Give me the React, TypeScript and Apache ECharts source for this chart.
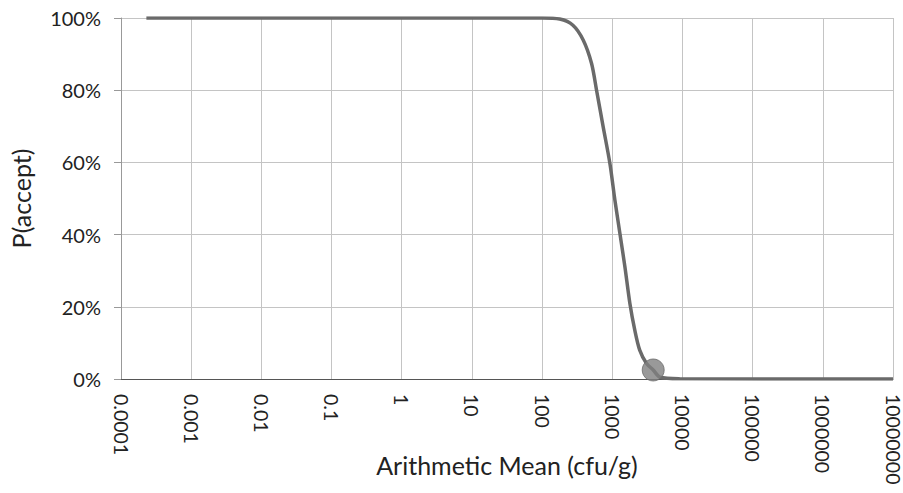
import React, { useEffect, useRef } from "react";
import * as echarts from "echarts";

const xMean: number[] = [0.00023, 100, 178, 275, 385, 507, 597, 741, 925, 1089, 1283, 1513, 1780, 2090, 2460, 3080, 3830, 4800, 9100, 10000000];
const pAccept: number[] = [100, 100, 99.7, 98, 93.9, 87.4, 80, 69.9, 59.7, 49.6, 40.4, 31.1, 21, 13.6, 8, 4.3, 2.5, 0.5, 0.1, 0];
const markerPoint: [number, number][] = [[3830, 2.5]];
const yTicks: number[] = [0, 20, 40, 60, 80, 100];

const FONT = "Lato, 'Open Sans', sans-serif";

export default function App() {
  const ref = useRef<HTMLDivElement>(null);
  useEffect(() => {
    if (!ref.current) return;
    const chart = echarts.init(ref.current, null, { renderer: "svg" });
    chart.setOption({
      animation: false,
      backgroundColor: "#fff",
      grid: { left: 121, right: 10, top: 18, bottom: 114, containLabel: false, outerBoundsMode: "none" },
      xAxis: {
        type: "log",
        logBase: 10,
        min: 0.0001,
        max: 10000000,
        interval: 1,
        name: "Arithmetic Mean (cfu/g)",
        nameLocation: "middle",
        nameGap: 86,
        nameMoveOverlap: false,
        nameTextStyle: { fontFamily: FONT, fontSize: 25, color: "#222", verticalAlign: "middle" },
        axisLine: { show: true, lineStyle: { color: "#555", width: 1 } },
        axisTick: { show: false },
        axisLabel: {
          rotate: -90,
          fontFamily: FONT,
          fontSize: 19.5,
          lineHeight: 17,
          color: "#222",
          margin: 15,
          showMinLabel: true,
          showMaxLabel: true,
          formatter: (v: number) => {
            const p = Math.round(Math.log10(v));
            if (p < 0) return (Math.pow(10, p)).toFixed(-p);
            return "1" + "0".repeat(p);
          },
        },
        splitLine: { show: true, lineStyle: { color: "#c4c4c4", width: 1 } },
      },
      yAxis: {
        type: "value",
        min: 0,
        max: 100,
        interval: 20,
        name: "P(accept)",
        nameLocation: "middle",
        nameGap: 100,
        nameMoveOverlap: false,
        nameTextStyle: { fontFamily: FONT, fontSize: 25, color: "#222", verticalAlign: "middle" },
        axisLine: { show: true, lineStyle: { color: "#999", width: 1 } },
        axisTick: { show: true, length: 7, lineStyle: { color: "#999" } },
        axisLabel: {
          fontFamily: FONT,
          fontSize: 20,
          color: "#222",
          margin: 20,
          formatter: (v: number) => (yTicks.includes(v) ? v + "%" : ""),
        },
        splitLine: { show: true, lineStyle: { color: "#c4c4c4", width: 1 } },
      },
      series: [
        {
          type: "line",
          data: xMean.map((x, i) => [x, pAccept[i]]),
          smooth: 0.3,
          showSymbol: false,
          symbol: "none",
          lineStyle: { color: "#6a6a6a", width: 3.5 },
          z: 3,
        },
        {
          type: "scatter",
          data: markerPoint,
          symbol: "circle",
          symbolSize: 22,
          itemStyle: { color: "#808080", borderColor: "#6a6a6a", borderWidth: 1 },
          z: 4,
        },
      ],
    });
    return () => chart.dispose();
  }, []);
  return <div ref={ref} style={{ position: "fixed", left: 0, top: 0, width: 903, height: 493 }} />;
}
